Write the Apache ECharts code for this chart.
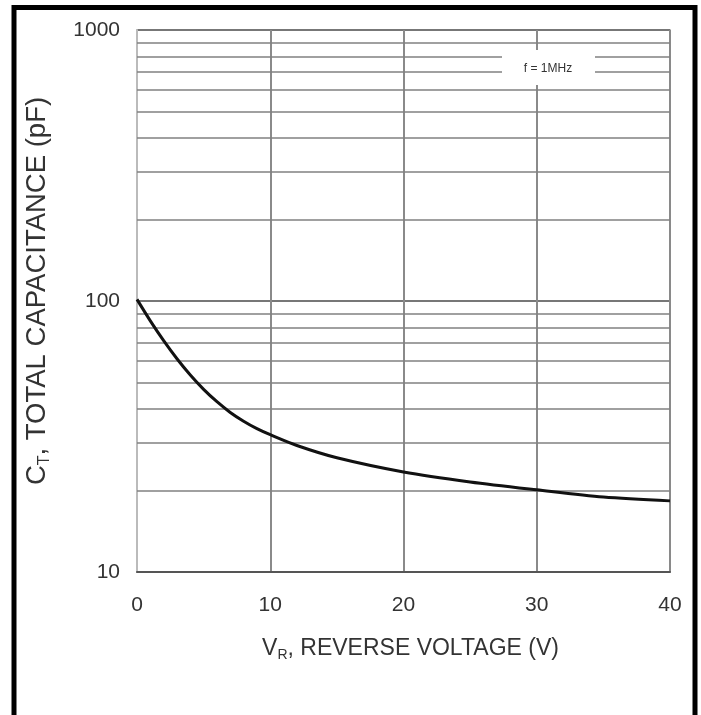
<!DOCTYPE html>
<html>
<head>
<meta charset="utf-8">
<script src="https://cdn.jsdelivr.net/npm/echarts@6/dist/echarts.min.js"></script>
<style>
  html, body { margin: 0; padding: 0; background: #fff; }
  #chart { width: 701px; height: 715px; }
</style>
</head>
<body>
<div id="chart"></div>
<script>
// reverse voltage (V) and total capacitance (pF)
var voltage = [0, 1, 2, 3, 4, 5, 6, 7, 8, 9, 10, 12, 15, 20, 25, 30, 35, 40];
var capacitance = [101.4, 84.5, 71.4, 61.2, 53.3, 47.2, 42.5, 38.8, 36.0, 33.8, 32.1, 29.3, 26.4, 23.4, 21.5, 20.1, 18.9, 18.3];

// minor log grid lines (2..9 of each decade)
var minorGrid = [20, 30, 40, 50, 60, 70, 80, 90, 200, 300, 400, 500, 600, 700, 800, 900];

var xTicks = [0, 10, 20, 30, 40];

var chart = echarts.init(document.getElementById('chart'));

var points = voltage.map(function (v, i) { return [v, capacitance[i]]; });

var option = {
	backgroundColor: '#fff',
	animation: false,
	textStyle: { fontFamily: 'Liberation Sans, Arial, sans-serif' },
	grid: { left: 137, right: 31, top: 30, bottom: 143, show: true, borderColor: '#999', borderWidth: 1.5 },
	xAxis: {
		type: 'value',
		min: xTicks[0],
		max: xTicks[xTicks.length - 1],
		interval: 10,
		axisLine: { show: true, lineStyle: { color: '#555', width: 2 } },
		axisTick: { show: false },
		splitLine: { show: true, lineStyle: { color: '#8a8a8a', width: 2 } },
		axisLabel: { color: '#333', fontSize: 21, margin: 23 },
		name: '{a|V}{s|R}{a|, REVERSE VOLTAGE (V)}',
		nameLocation: 'middle',
		nameGap: 63,
		nameTextStyle: {
			padding: [0, 0, 0, 14],
			rich: {
				a: { fontSize: 23, color: '#333' },
				s: { fontSize: 14, color: '#333', padding: [13, 0, 0, 0] }
			}
		}
	},
	yAxis: {
		type: 'log',
		logBase: 10,
		min: 10,
		max: 1000,
		axisLine: { show: true, lineStyle: { color: '#bbb', width: 2 } },
		axisTick: { show: false },
		splitLine: { show: true, lineStyle: { color: '#777', width: 2 } },
		axisLabel: { color: '#333', fontSize: 21, margin: 17, formatter: function (v) { return String(v); } },
		name: '{a|C}{s|T}{a|, TOTAL CAPACITANCE (pF)}',
		nameLocation: 'middle',
		nameGap: 84,
		nameTextStyle: {
			padding: [0, 0, 0, 20],
			rich: {
				a: { fontSize: 27.5, color: '#333' },
				s: { fontSize: 16, color: '#333', padding: [16, 0, 0, 0] }
			}
		}
	},
	series: [{
		type: 'line',
		data: points,
		smooth: 0.3,
		showSymbol: false,
		lineStyle: { color: '#111', width: 3 },
		z: 5,
		markLine: {
			silent: true,
			symbol: 'none',
			label: { show: false },
			lineStyle: { color: '#808080', width: 1.5, type: 'solid' },
			data: minorGrid.map(function (v) { return { yAxis: v }; })
		}
	}],
	graphic: [
		{
			type: 'rect',
			shape: { x: 14, y: 7.5, width: 681, height: 730 },
			style: { fill: null, stroke: '#000', lineWidth: 5 },
			z: 100
		},
		{
			type: 'rect',
			shape: { x: 502, y: 50, width: 93, height: 35 },
			style: { fill: '#fff' },
			z: 50
		},
		{
			type: 'text',
			x: 548,
			y: 69,
			style: { text: 'f = 1MHz', fill: '#333', fontSize: 12, align: 'center', verticalAlign: 'middle', fontFamily: 'Liberation Sans, Arial, sans-serif' },
			z: 51
		}
	]
};

chart.setOption(option);
</script>
</body>
</html>
